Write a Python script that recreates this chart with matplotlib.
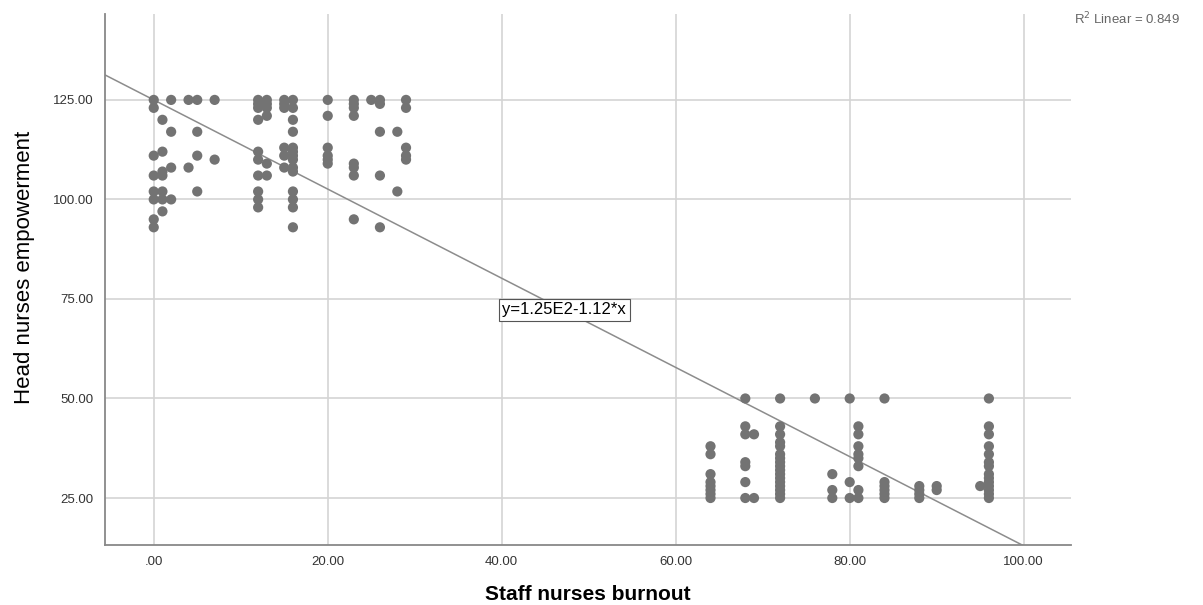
import matplotlib.pyplot as plt
import numpy as np

plt.rcParams['font.family'] = ['Liberation Sans', 'DejaVu Sans']

# Staff nurses burnout (x) and head nurses empowerment (y)
x_high = ([0] * 8 + [1] * 7 + [2] * 4 + [4] * 2 + [5] * 4 + [7] * 2 +
          [12] * 10 + [13] * 6 + [15] * 6 + [16] * 14 + [20] * 6 +
          [23] * 8 + [25] + [26] * 5 + [28] * 2 + [29] * 5)
y_high = ([125, 123, 111, 106, 102, 100, 95, 93] +
          [120, 112, 107, 106, 102, 100, 97] +
          [125, 117, 108, 100] +
          [125, 108] +
          [125, 117, 111, 102] +
          [125, 110] +
          [125, 124, 123, 120, 112, 110, 106, 102, 100, 98] +
          [125, 124, 123, 121, 109, 106] +
          [125, 124, 123, 113, 111, 108] +
          [125, 123, 120, 117, 113, 112, 111, 110, 108, 107, 102, 100, 98, 93] +
          [125, 121, 113, 111, 110, 109] +
          [125, 124, 123, 121, 109, 108, 106, 95] +
          [125] +
          [125, 124, 117, 106, 93] +
          [117, 102] +
          [125, 123, 113, 111, 110])

x_low = ([64] * 8 + [68] * 7 + [69] * 2 + [72] * 17 + [76] + [78] * 3 +
         [80] * 3 + [81] * 8 + [84] * 6 + [88] * 4 + [90] * 2 + [95] +
         [96] * 14)
y_low = ([38, 36, 31, 29, 28, 27, 26, 25] +
         [50, 43, 41, 34, 33, 29, 25] +
         [41, 25] +
         [50, 43, 41, 39, 38, 36, 35, 34, 33, 32, 31, 30, 29, 28, 27, 26, 25] +
         [50] +
         [31, 27, 25] +
         [50, 29, 25] +
         [43, 41, 38, 36, 35, 33, 27, 25] +
         [50, 29, 28, 27, 26, 25] +
         [28, 27, 26, 25] +
         [28, 27] +
         [28] +
         [50, 43, 41, 38, 36, 34, 33, 31, 30, 29, 28, 27, 26, 25])

burnout = np.array(x_high + x_low)
empowerment = np.array(y_high + y_low)

# Fit line as reported by SPSS
intercept = 125.0
slope = -1.12
r2_text = 'R$^2$ Linear = 0.849'

xticks = [0, 20, 40, 60, 80, 100]
xtick_labels = ['.00', '20.00', '40.00', '60.00', '80.00', '100.00']
yticks = [25, 50, 75, 100, 125]
ytick_labels = ['25.00', '50.00', '75.00', '100.00', '125.00']

fig = plt.figure(figsize=(12.03, 6.05), dpi=100)
ax = fig.add_axes([0.0873, 0.0992, 0.8027, 0.8778])

xmin, xmax = -5.6, 105.4
ymin, ymax = 13.2, 146.6

ax.grid(True, color='#d4d4d4', linewidth=1.2, zorder=0)
ax.set_axisbelow(True)

fit_x = np.array([xmin, xmax])
ax.plot(fit_x, intercept + slope * fit_x, color='#8c8c8c', linewidth=1.1, zorder=2)

ax.scatter(burnout, empowerment, s=54, color='#737373', edgecolors='none', zorder=3)

ax.set_xlim(xmin, xmax)
ax.set_ylim(ymin, ymax)
ax.set_xticks(xticks)
ax.set_xticklabels(xtick_labels)
ax.set_yticks(yticks)
ax.set_yticklabels(ytick_labels)
ax.tick_params(length=0, labelsize=9.5, labelcolor='#333333', pad=8)

for side in ['top', 'right']:
    ax.spines[side].set_visible(False)
for side in ['left', 'bottom']:
    ax.spines[side].set_color('#888888')
    ax.spines[side].set_linewidth(1.3)

ax.set_xlabel('Staff nurses burnout', fontsize=15, fontweight='bold')
ax.xaxis.set_label_coords(0.5, -0.076)
ax.set_ylabel('Head nurses empowerment', fontsize=16)
ax.yaxis.set_label_coords(-0.072, 0.522)

ax.text(47.2, 72.3, 'y=1.25E2-1.12*x', fontsize=12, ha='center', va='center', zorder=4,
        bbox=dict(boxstyle='square,pad=0.2', facecolor='white', edgecolor='#555555', linewidth=0.8))

fig.text(0.981, 0.968, r2_text, fontsize=9.5, color='#666666', ha='right', va='center')

fig.savefig('out.png', dpi=100)
